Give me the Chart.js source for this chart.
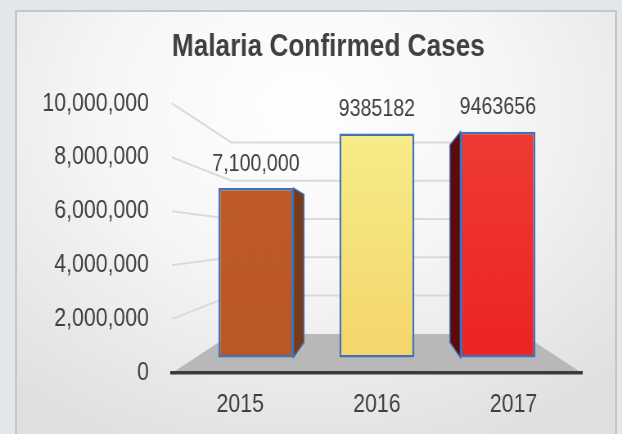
<!DOCTYPE html>
<html>
<head>
<meta charset="utf-8">
<title>Malaria Confirmed Cases</title>
<script src="https://cdn.jsdelivr.net/npm/chart.js@4.4.1/dist/chart.umd.min.js"></script>
<style>
  html, body { margin: 0; padding: 0; }
  body { width: 622px; height: 434px; background: #e3e7ea; position: relative; overflow: hidden; }
  .panel {
    position: absolute; left: 15px; top: 10px; width: 598px; height: 430px;
    border: 2px solid #c6c6c6; border-bottom: none;
    background: radial-gradient(ellipse 75% 85% at 48% 22%, #ffffff 0%, #f6f6f6 45%, #e0e0e0 100%);
  }
  /* the original uses a narrow face; draw wider and squeeze the whole canvas */
  .chart-wrap {
    position: absolute; left: 0; top: 0; width: 760px; height: 434px;
    transform: scaleX(0.81842); transform-origin: 0 0;
  }
</style>
</head>
<body>
<div class="panel"></div>
<div class="chart-wrap"><canvas id="casesChart" width="760" height="434"></canvas></div>
<script>
// ---- data ----
const years = ['2015', '2016', '2017'];
const confirmedCases = [7100000, 9385182, 9463656];
const valueLabels = ['7,100,000', '9385182', '9463656'];
const yTicks = [0, 2000000, 4000000, 6000000, 8000000, 10000000];

// ---- look ----
const FONT = "'Liberation Sans', Arial, sans-serif";
const TEXT = '#404040';
const faceTop = ['#c15c29', '#f6f08c', '#ef3d35'];
const faceBottom = ['#bb5724', '#f5d369', '#ec2222'];
const sideColors = ['#793a18', '#b09030', '#5c0b0b'];
const EDGE = '#3f72b6';

// fake 3D: everything recedes toward one vanishing point
const BAR_DEPTH = 0.115;   // front face of the bars
const SIDE_DEPTH = 0.125;  // thickness of the bars
const WALL_DEPTH = 0.29;   // back wall and back edge of the floor
const VANISH_VALUE = 5000000;

const Y_MAX = yTicks[yTicks.length - 1];
const midIndex = (years.length - 1) / 2;

// hidden scales for the bars = the visible ones pushed back by BAR_DEPTH
const squeeze = (v, vp) => (v - BAR_DEPTH * vp) / (1 - BAR_DEPTH);

function vanishPoint(chart) {
  const { x, y } = chart.scales;
  return { x: x.getPixelForValue(midIndex), y: y.getPixelForValue(VANISH_VALUE) };
}

const perspective3d = {
  id: 'perspective3d',

  beforeDraw(chart) {
    const { ctx, chartArea: a, scales: { y } } = chart;
    const vp = vanishPoint(chart);
    const back = (px, py) => [px + (vp.x - px) * WALL_DEPTH, py + (vp.y - py) * WALL_DEPTH];

    // floor
    const y0 = y.getPixelForValue(0);
    const bl = back(a.left, y0), br = back(a.right, y0);
    ctx.save();
    ctx.fillStyle = '#b8b8b8';
    ctx.beginPath();
    ctx.moveTo(a.left, y0);
    ctx.lineTo(bl[0], bl[1]);
    ctx.lineTo(br[0], br[1]);
    ctx.lineTo(a.right, y0);
    ctx.closePath();
    ctx.fill();

    // gridlines: side wall diagonal, then along the back wall
    ctx.strokeStyle = '#dadada';
    ctx.lineWidth = 2;
    yTicks.forEach(v => {
      if (v === 0) return;
      const fy = y.getPixelForValue(v);
      const p = back(a.left, fy), q = back(a.right, fy);
      ctx.beginPath();
      ctx.moveTo(a.left, fy);
      ctx.lineTo(p[0], p[1]);
      ctx.lineTo(q[0], q[1]);
      ctx.stroke();
    });
    ctx.restore();
  },

  beforeDatasetsDraw(chart) {
    const { ctx } = chart;
    const vp = vanishPoint(chart);
    const meta = chart.getDatasetMeta(0);
    ctx.save();
    meta.data.forEach((bar, i) => {
      const { x, y, base, width } = bar.getProps(['x', 'y', 'base', 'width'], true);
      const left = x - width / 2, right = x + width / 2;
      let near;
      if (right < vp.x) near = right;
      else if (left > vp.x) near = left;
      else return;
      const farX = near + (vp.x - near) * SIDE_DEPTH;
      const farTop = y + (vp.y - y) * SIDE_DEPTH;
      const farBase = base + (vp.y - base) * SIDE_DEPTH;
      ctx.fillStyle = sideColors[i];
      ctx.strokeStyle = EDGE;
      ctx.lineWidth = 1.5;
      ctx.beginPath();
      ctx.moveTo(near, y);
      ctx.lineTo(farX, farTop);
      ctx.lineTo(farX, farBase);
      ctx.lineTo(near, base);
      ctx.closePath();
      ctx.fill();
      ctx.stroke();
    });
    ctx.restore();
  },

  afterDatasetsDraw(chart) {
    const { ctx } = chart;
    const meta = chart.getDatasetMeta(0);
    ctx.save();
    ctx.fillStyle = TEXT;
    ctx.font = '24px ' + FONT;
    ctx.textAlign = 'center';
    ctx.textBaseline = 'middle';
    meta.data.forEach((bar, i) => {
      const { x, y } = bar.getProps(['x', 'y'], true);
      ctx.fillText(valueLabels[i], x, y - 24);
    });
    ctx.restore();
  }
};

new Chart(document.getElementById('casesChart'), {
  type: 'bar',
  data: {
    labels: years,
    datasets: [{
      label: 'Malaria Confirmed Cases',
      data: years.map((yr, i) => ({ x: i, y: confirmedCases[i] })),
      xAxisID: 'xb',
      yAxisID: 'yb',
      backgroundColor: c => {
        const area = c.chart.chartArea;
        if (!area) return faceBottom[c.dataIndex];
        const g = c.chart.ctx.createLinearGradient(0, area.top, 0, area.bottom);
        g.addColorStop(0, faceTop[c.dataIndex]);
        g.addColorStop(1, faceBottom[c.dataIndex]);
        return g;
      },
      borderColor: EDGE,
      borderWidth: 2.5,
      borderSkipped: false,
      categoryPercentage: 1,
      barPercentage: 0.62
    }]
  },
  options: {
    responsive: false,
    animation: false,
    layout: { padding: { top: 10, left: 20, right: 49, bottom: 11 } },
    plugins: {
      legend: { display: false },
      tooltip: { enabled: false },
      title: {
        display: true,
        fullSize: false,
        align: 'start',
        text: 'Malaria Confirmed Cases',
        color: TEXT,
        font: { family: FONT, size: 32, weight: 'bold' },
        padding: { top: 18, bottom: 37 }
      }
    },
    scales: {
      x: {
        type: 'category',
        position: 'bottom',
        grid: { display: false, drawTicks: false },
        border: { display: true, color: '#3a3a3a', width: 3.5 },
        ticks: { color: TEXT, font: { family: FONT, size: 26 }, padding: 16 },
        afterFit: s => { s.height = 50; }
      },
      y: {
        type: 'linear',
        position: 'left',
        min: 0,
        max: Y_MAX,
        grid: { display: false, drawTicks: false },
        border: { display: false },
        ticks: {
          stepSize: yTicks[1] - yTicks[0],
          color: TEXT,
          font: { family: FONT, size: 26 },
          padding: 28,
          callback: v => v.toLocaleString('en-US')
        },
        afterFit: s => { s.width = 190; }
      },
      xb: {
        type: 'linear', axis: 'x', display: false, offset: false,
        min: squeeze(-0.5, midIndex), max: squeeze(years.length - 0.5, midIndex),
        // one tick per bar so the bar width comes from the bar spacing
        afterBuildTicks: s => { s.ticks = years.map((yr, i) => ({ value: i })); }
      },
      yb: {
        type: 'linear', axis: 'y', display: false,
        min: squeeze(0, VANISH_VALUE), max: squeeze(Y_MAX, VANISH_VALUE)
      }
    }
  },
  plugins: [perspective3d]
});
</script>
</body>
</html>
